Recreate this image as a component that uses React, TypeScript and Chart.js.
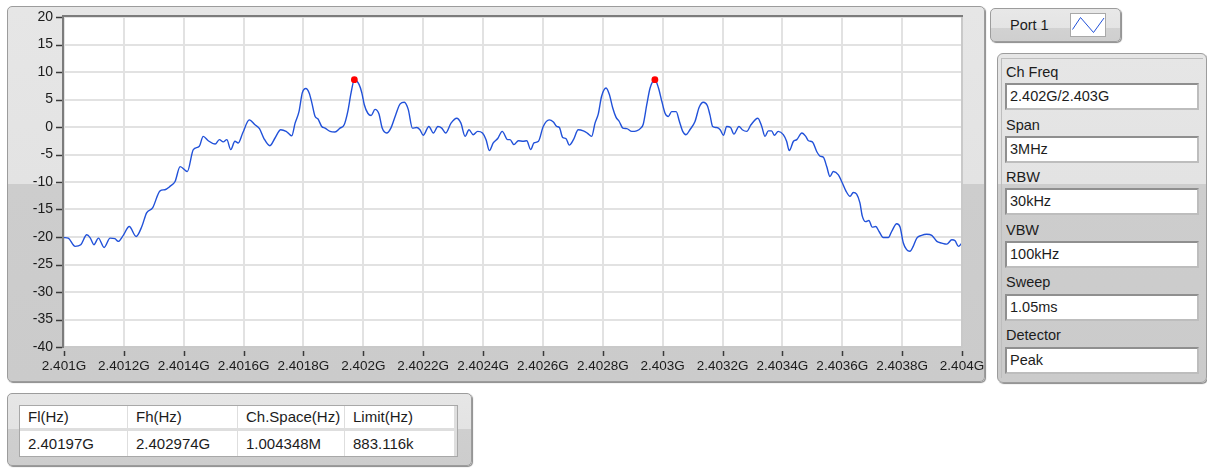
import React, { useEffect, useRef } from "react";
import { Chart, registerables } from "chart.js";

Chart.register(...registerables);

// Frequency offset above 2.401 GHz, in MHz
const FREQ_OFFSET_MHZ = [
  0.000, 0.014, 0.037, 0.056, 0.076, 0.087, 0.100, 0.115, 0.134, 0.154,
  0.170, 0.181, 0.198, 0.218, 0.241, 0.260, 0.276, 0.296, 0.321, 0.337,
  0.354, 0.371, 0.388, 0.412, 0.432, 0.452, 0.465, 0.482, 0.505, 0.519,
  0.532, 0.544, 0.557, 0.571, 0.582, 0.597, 0.619, 0.638, 0.653, 0.668,
  0.688, 0.705, 0.724, 0.742,
  0.749, 0.761, 0.772, 0.785, 0.796, 0.808, 0.819, 0.828, 0.839, 0.848,
  0.861, 0.872, 0.889, 0.905, 0.922, 0.936, 0.948, 0.959, 0.970, 0.986,
  0.995, 1.003, 1.015, 1.026, 1.039, 1.052, 1.063, 1.078, 1.092, 1.108,
  1.123, 1.137, 1.150, 1.164, 1.178, 1.189, 1.200, 1.219, 1.234, 1.249,
  1.262, 1.275, 1.293, 1.312, 1.326, 1.340, 1.353, 1.367, 1.382, 1.398,
  1.410, 1.421, 1.434, 1.449, 1.464, 1.482,
  1.490, 1.503, 1.518, 1.534, 1.546, 1.559, 1.570, 1.585, 1.601, 1.621,
  1.635, 1.646, 1.655, 1.666, 1.677, 1.688, 1.702, 1.718, 1.735, 1.748,
  1.763, 1.774, 1.785, 1.796, 1.811, 1.822, 1.833, 1.844, 1.855, 1.867,
  1.880, 1.897, 1.913, 1.927, 1.935, 1.947, 1.958, 1.974, 1.986, 1.997,
  2.008, 2.019, 2.030, 2.045, 2.056, 2.067, 2.078, 2.091, 2.108, 2.122,
  2.136, 2.149, 2.158, 2.167, 2.181, 2.192, 2.203, 2.214, 2.227, 2.238,
  2.255, 2.266, 2.281, 2.295, 2.318, 2.331, 2.342, 2.353, 2.364, 2.373,
  2.386, 2.403, 2.414, 2.423, 2.437, 2.448, 2.465, 2.478, 2.487, 2.500,
  2.515, 2.526, 2.537, 2.548, 2.559, 2.570, 2.587, 2.598, 2.612, 2.626,
  2.637, 2.648, 2.659, 2.667, 2.678, 2.689, 2.700, 2.712, 2.723, 2.737,
  2.754, 2.765, 2.782, 2.793, 2.804, 2.815, 2.826, 2.837, 2.849, 2.865,
  2.882, 2.899, 2.916, 2.932, 2.949, 2.966, 2.977, 2.988, 3.000,
];

const LEVEL_DBM = [
  -20.1, -20.2, -21.7, -21.4, -19.6, -20.1, -21.4, -20.2, -21.9, -20.2,
  -20.3, -20.8, -19.7, -18.1, -19.9, -18.1, -15.6, -14.7, -11.6, -11.4,
  -10.8, -9.9, -7.2, -8.1, -4.1, -3.5, -1.7, -2.5, -3.1, -2.3,
  -2.7, -2.3, -4.1, -2.6, -2.9, -1.1, 1.3, 0.4, -0.3, -2.1,
  -3.4, -2.0, -0.5, -0.8,
  -1.1, -1.6, 0.7, 2.8, 6.2, 7.0, 6.2, 4.4, 1.9, 1.5,
  0.1, -0.2, -0.8, -0.9, -0.2, 0.4, 2.8, 6.2, 8.6, 7.7,
  6.2, 4.1, 2.5, 2.1, 3.2, 2.4, -0.2, -1.1, -0.2, 2.2,
  4.2, 4.5, 3.2, -0.2, -0.1, -0.5, -1.5, 0.1, -1.1, 0.1,
  -0.2, -1.1, 0.7, 1.6, 0.7, -1.7, -0.5, -1.4, -0.8, -1.1,
  -2.3, -4.3, -2.9, -2.1, -0.8, -2.3,
  -2.3, -3.2, -2.5, -2.6, -2.5, -4.1, -2.9, -2.6, 0.1, 1.3,
  0.9, 0.1, -0.1, -1.9, -2.1, -3.3, -2.3, -0.5, -0.7, -1.1,
  -1.7, 0.7, 2.4, 5.6, 7.1, 5.9, 3.5, 1.8, 1.0, -0.2,
  -0.3, -0.8, -0.7, -0.2, 0.5, 4.1, 7.1, 8.6, 7.1, 4.7,
  2.5, 1.9, 2.8, 2.8, 1.0, -0.8, -1.4, -0.5, 1.0, 3.6,
  4.5, 3.9, 2.2, 0.1, -0.1, -0.5, -1.5, 0.1, -0.1, -1.3,
  0.1, -0.5, -0.8, 0.4, 1.6, 0.1, -1.7, -0.7, -0.7, -1.5,
  -0.8, -1.4, -2.6, -4.3, -2.6, -2.3, -1.1, -1.7, -2.5, -2.7,
  -4.5, -5.3, -5.5, -7.2, -9.0, -8.1, -8.7, -9.9, -11.6, -12.6,
  -11.9, -12.2, -13.8, -16.2, -17.2, -17.0, -18.2, -18.1, -19.0, -20.1,
  -20.1, -19.0, -17.6, -18.2, -21.1, -22.3, -22.6, -21.7, -20.2, -19.7,
  -19.5, -19.7, -20.8, -21.1, -21.3, -20.5, -20.7, -21.7, -21.1,
];

const MARKER_FREQ_OFFSET_MHZ = [0.970, 1.974];
const MARKER_LEVEL_DBM = [8.6, 8.6];

const X_TICK_LABELS = [
  "2.401G", "2.4012G", "2.4014G", "2.4016G", "2.4018G", "2.402G", "2.4022G", "2.4024G",
  "2.4026G", "2.4028G", "2.403G", "2.4032G", "2.4034G", "2.4036G", "2.4038G", "2.404G",
];
const X_MIN = 0;
const X_MAX = 3;
const X_STEP = 0.2;
const Y_MIN = -40;
const Y_MAX = 20;
const Y_STEP = 5;

const LEGEND_LABEL = "Port 1";
const PARAM_LABELS = ["Ch Freq", "Span", "RBW", "VBW", "Sweep", "Detector"];
const PARAM_VALUES = ["2.402G/2.403G", "3MHz", "30kHz", "100kHz", "1.05ms", "Peak"];
const TABLE_HEADERS = ["Fl(Hz)", "Fh(Hz)", "Ch.Space(Hz)", "Limit(Hz)"];
const TABLE_VALUES = ["2.40197G", "2.402974G", "1.004348M", "883.116k"];

const FONT = "'Liberation Sans', Arial, sans-serif";
const TEXT = "#1c1c1c";
const LINE_BLUE = "#2151d9";

const plotDecor = {
  id: "plotDecor",
  beforeDraw(chart: any) {
    const { ctx, chartArea } = chart;
    ctx.save();
    ctx.fillStyle = "#ffffff";
    ctx.fillRect(chartArea.left, chartArea.top, chartArea.right - chartArea.left, chartArea.bottom - chartArea.top);
    ctx.restore();
  },
  afterDraw(chart: any) {
    const { ctx, chartArea, scales } = chart;
    const { left, right, top, bottom } = chartArea;
    ctx.save();
    ctx.strokeStyle = "#3a3a3a";
    ctx.lineWidth = 1.5;
    scales.x.ticks.forEach((t: any) => {
      const px = Math.round(scales.x.getPixelForValue(t.value)) + 0.5;
      ctx.beginPath();
      ctx.moveTo(px, bottom + 4);
      ctx.lineTo(px, bottom + 9);
      ctx.stroke();
    });
    scales.y.ticks.forEach((t: any) => {
      const py = Math.round(scales.y.getPixelForValue(t.value)) + 0.5;
      ctx.beginPath();
      ctx.moveTo(left - 8, py);
      ctx.lineTo(left - 2, py);
      ctx.stroke();
    });
    ctx.lineWidth = 2;
    ctx.strokeStyle = "#c9c9c9";
    ctx.beginPath();
    ctx.moveTo(right, top);
    ctx.lineTo(right, bottom);
    ctx.lineTo(left, bottom);
    ctx.stroke();
    ctx.strokeStyle = "#7c7c7c";
    ctx.beginPath();
    ctx.moveTo(left - 1, bottom + 1);
    ctx.lineTo(left - 1, top - 1);
    ctx.lineTo(right + 1, top - 1);
    ctx.stroke();
    ctx.restore();
  },
};

function SpectrumChart() {
  const ref = useRef<HTMLCanvasElement | null>(null);
  useEffect(() => {
    if (!ref.current) return;
    const trace = FREQ_OFFSET_MHZ.map((f, i) => ({ x: f, y: LEVEL_DBM[i] }));
    const markers = MARKER_FREQ_OFFSET_MHZ.map((f, i) => ({ x: f, y: MARKER_LEVEL_DBM[i] }));
    const chart = new Chart(ref.current, {
      type: "line",
      data: {
        datasets: [
          {
            data: markers,
            showLine: false,
            pointRadius: 3.4,
            pointBackgroundColor: "#ff0000",
            pointBorderColor: "#ff0000",
            pointBorderWidth: 0,
            order: 0,
          },
          {
            data: trace,
            borderColor: LINE_BLUE,
            borderWidth: 1.4,
            pointRadius: 0,
            cubicInterpolationMode: "monotone",
            fill: false,
            order: 1,
          },
        ],
      },
      options: {
        responsive: false,
        animation: false,
        events: [],
        layout: { padding: { top: 10, right: 23, left: 0, bottom: 0 } },
        plugins: { legend: { display: false }, tooltip: { enabled: false } },
        scales: {
          x: {
            type: "linear",
            min: X_MIN,
            max: X_MAX,
            afterFit: (s: any) => {
              s.height = 36;
              s.paddingLeft = 0;
              s.paddingRight = 0;
            },
            grid: { color: "#e2e2e2", lineWidth: 2, drawTicks: false },
            border: { display: false },
            ticks: {
              stepSize: X_STEP,
              autoSkip: false,
              maxRotation: 0,
              minRotation: 0,
              padding: 11,
              color: TEXT,
              font: { family: FONT, size: 13.5 },
              callback: (v: any) => X_TICK_LABELS[Math.round((Number(v) - X_MIN) / X_STEP)] ?? "",
            },
          },
          y: {
            type: "linear",
            min: Y_MIN,
            max: Y_MAX,
            afterFit: (s: any) => {
              s.width = 57;
              s.paddingTop = 0;
              s.paddingBottom = 0;
            },
            grid: { color: "#e2e2e2", lineWidth: 2, drawTicks: false },
            border: { display: false },
            ticks: {
              stepSize: Y_STEP,
              padding: 11,
              color: TEXT,
              font: { family: FONT, size: 14 },
              callback: (v: any) => String(v),
            },
          },
        },
      },
      plugins: [plotDecor],
    } as any);
    return () => chart.destroy();
  }, []);
  return (
    <canvas
      ref={ref}
      width={978}
      height={376}
      style={{ position: "absolute", left: 7, top: 7, width: 978, height: 376 }}
    />
  );
}

const panelBg = (split: number) =>
  `linear-gradient(to bottom, #e6e6e6 0px, #e3e3e3 ${split}px, #cdcdcd ${split}px, #cbcbcb 100%)`;

function InputBox({ top, text }: { top: number; text: string }) {
  return (
    <div
      style={{
        position: "absolute",
        left: 1005,
        top,
        width: 194,
        height: 27,
        boxSizing: "border-box",
        background: "#ffffff",
        borderTop: "2px solid #8f8f8f",
        borderLeft: "2px solid #8f8f8f",
        borderBottom: "2px solid #bdbdbd",
        borderRight: "2px solid #bdbdbd",
        paddingLeft: 3,
        lineHeight: "23px",
        fontSize: 14.5,
        color: TEXT,
        whiteSpace: "nowrap",
      }}
    >
      {text}
    </div>
  );
}

export default function App() {
  const colX = [20, 128, 238, 345, 455];
  return (
    <div
      style={{
        position: "absolute",
        left: 0,
        top: 0,
        width: 1207,
        height: 468,
        overflow: "hidden",
        background: "#ffffff",
        fontFamily: FONT,
      }}
    >
      {/* graph frame */}
      <div
        style={{
          position: "absolute",
          left: 7,
          top: 6,
          width: 978,
          height: 376,
          boxSizing: "border-box",
          border: "1px solid #9c9c9c",
          borderRadius: 5,
          background: panelBg(177),
          boxShadow: "1px 1px 1px #8a8a8a",
        }}
      />
      <SpectrumChart />

      {/* legend */}
      <div
        style={{
          position: "absolute",
          left: 990,
          top: 8,
          width: 131,
          height: 34,
          boxSizing: "border-box",
          border: "1px solid #9c9c9c",
          borderRadius: 5,
          background: "linear-gradient(to bottom, #e8e8e8 0px, #e4e4e4 19px, #d2d2d2 19px, #cfcfcf 100%)",
          boxShadow: "1px 1px 1px #8a8a8a",
        }}
      />
      <div style={{ position: "absolute", left: 1010, top: 16, fontSize: 14.5, lineHeight: "18px", color: TEXT }}>
        {LEGEND_LABEL}
      </div>
      <svg
        width={36}
        height={24}
        style={{ position: "absolute", left: 1070, top: 13, background: "#ffffff", border: "1px solid #a8a8a8", boxSizing: "border-box" }}
      >
        <polyline points="1.5,15.5 9.5,3.5 22.5,18.5 33,4" fill="none" stroke={LINE_BLUE} strokeWidth={1} />
      </svg>

      {/* parameter panel */}
      <div
        style={{
          position: "absolute",
          left: 997,
          top: 53,
          width: 210,
          height: 330,
          boxSizing: "border-box",
          border: "1px solid #9c9c9c",
          borderRadius: 6,
          background: panelBg(130),
          boxShadow: "1px 1px 1px #8a8a8a",
        }}
      />
      <div
        style={{
          position: "absolute",
          left: 1001,
          top: 58,
          width: 202,
          height: 320,
          boxSizing: "border-box",
          borderLeft: "1px solid #bdbdbd",
          borderTop: "1px solid #bdbdbd",
        }}
      />
      {PARAM_LABELS.map((label, i) => (
        <React.Fragment key={label}>
          <div
            style={{
              position: "absolute",
              left: 1006,
              top: 63 + i * 52.6,
              fontSize: 14.5,
              lineHeight: "18px",
              color: TEXT,
              whiteSpace: "nowrap",
            }}
          >
            {label}
          </div>
          <InputBox top={83 + i * 52.7} text={PARAM_VALUES[i]} />
        </React.Fragment>
      ))}

      {/* bottom table panel */}
      <div
        style={{
          position: "absolute",
          left: 7,
          top: 393,
          width: 465,
          height: 73,
          boxSizing: "border-box",
          border: "1px solid #9c9c9c",
          borderRadius: 5,
          background: "linear-gradient(to bottom, #e6e6e6 0px, #e3e3e3 35px, #cfcfcf 35px, #cdcdcd 100%)",
          boxShadow: "1px 1px 1px #8a8a8a",
        }}
      />
      <div
        style={{
          position: "absolute",
          left: 19,
          top: 405,
          width: 439,
          height: 52,
          boxSizing: "border-box",
          border: "1px solid #a8a8a8",
          background: "#dedede",
        }}
      />
      {TABLE_HEADERS.map((h, i) => (
        <React.Fragment key={h}>
          <div
            style={{
              position: "absolute",
              left: colX[i],
              top: 406,
              width: colX[i + 1] - colX[i] - 1,
              height: 22,
              background: "#ffffff",
              boxSizing: "border-box",
              paddingLeft: 8,
              fontSize: 15,
              lineHeight: "22px",
              color: TEXT,
              whiteSpace: "nowrap",
            }}
          >
            {h}
          </div>
          <div
            style={{
              position: "absolute",
              left: colX[i],
              top: 431,
              width: colX[i + 1] - colX[i] - 1,
              height: 25,
              background: "#ffffff",
              boxSizing: "border-box",
              paddingLeft: 8,
              fontSize: 15,
              lineHeight: "25px",
              color: TEXT,
              whiteSpace: "nowrap",
            }}
          >
            {TABLE_VALUES[i]}
          </div>
        </React.Fragment>
      ))}
    </div>
  );
}
